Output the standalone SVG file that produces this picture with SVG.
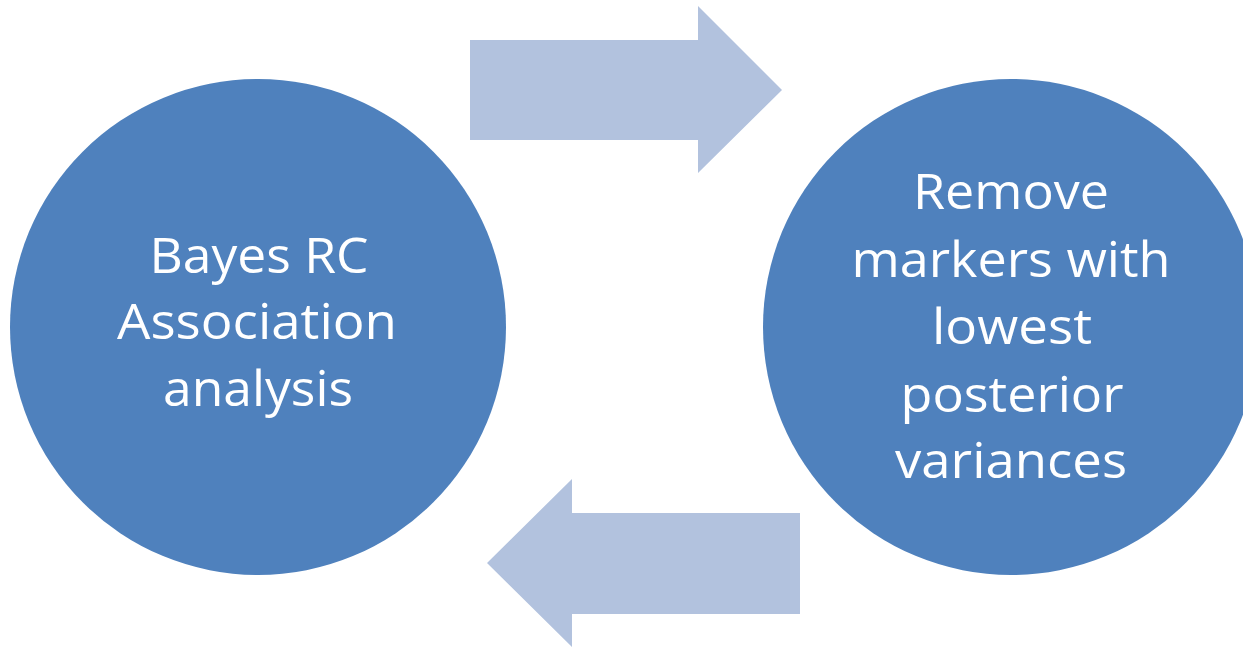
<svg xmlns="http://www.w3.org/2000/svg" width="1243" height="649" viewBox="0 0 1243 649">
<style>
.node{fill:#4F81BD}
.arrow{fill:#B2C2DE}
.lbl{font-family:"Open Sans","Noto Sans","Liberation Sans",sans-serif;font-size:50px;fill:#FFFFFF;text-anchor:middle}
</style>
<rect x="0" y="0" width="1243" height="649" fill="#FFFFFF"/>
<g id="connectors">
<polygon class="arrow" points="470,40 698,40 698,6 782,90 698,173 698,140 470,140"/>
<polygon class="arrow" points="800,513 572,513 572,479 487,563 572,647 572,614 800,614"/>
</g>
<g id="node-bayes">
<circle class="node" cx="258" cy="327" r="248"/>
<text class="lbl" x="259" y="273" textLength="219" lengthAdjust="spacingAndGlyphs">Bayes RC</text>
<text class="lbl" x="257" y="339" textLength="280" lengthAdjust="spacingAndGlyphs">Association</text>
<text class="lbl" x="258" y="406" textLength="190" lengthAdjust="spacingAndGlyphs">analysis</text>
</g>
<g id="node-remove">
<circle class="node" cx="1011" cy="327" r="248"/>
<text class="lbl" x="1011" y="209" textLength="196" lengthAdjust="spacingAndGlyphs">Remove</text>
<text class="lbl" x="1011" y="277" textLength="319" lengthAdjust="spacingAndGlyphs">markers with</text>
<text class="lbl" x="1012" y="344" textLength="160" lengthAdjust="spacingAndGlyphs">lowest</text>
<text class="lbl" x="1012" y="412" textLength="223" lengthAdjust="spacingAndGlyphs">posterior</text>
<text class="lbl" x="1011" y="478" textLength="232" lengthAdjust="spacingAndGlyphs">variances</text>
</g>
</svg>
